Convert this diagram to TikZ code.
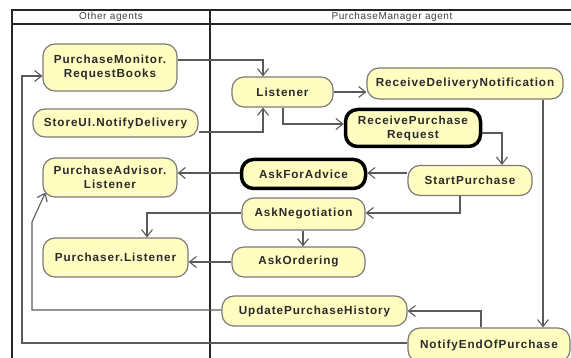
\documentclass[tikz,border=0pt]{standalone}
\usepackage{fontspec}
\setmainfont{Liberation Sans}
\newfontfamily\actfont[LetterSpace=8]{Liberation Sans Bold}
\newfontfamily\headfont[LetterSpace=6]{Liberation Sans}
\usetikzlibrary{arrows.meta}
\definecolor{actfill}{HTML}{FFFDC0}
\definecolor{actdraw}{HTML}{7A7A7A}
\definecolor{linegray}{HTML}{5A5A5A}
\definecolor{acttext}{HTML}{2A2A2A}
\tikzset{
  act/.style={draw=actdraw, line width=1.2pt, fill=actfill, rounded corners=12pt,
    inner sep=0pt, align=center, text=acttext, font=\actfont\fontsize{11.7}{14}\selectfont},
  bold act/.style={act, draw=black, line width=3.5pt},
  arr/.style={draw=linegray, line width=1.1pt, -{Straight Barb[length=7pt,width=11pt,line width=1.1pt]}},
  lane/.style={draw=black!85, line width=1.6pt},
  headtext/.style={font=\headfont\fontsize{10}{12}\selectfont, text=black!75}
}
\begin{document}
\begin{tikzpicture}[x=1pt,y=-1pt]
\useasboundingbox (0,0) rectangle (571,358);
\clip (0,0) rectangle (571,358);
% swimlanes
\draw[lane] (12,360) -- (12,10) -- (575,10);
\draw[lane] (12,24) -- (575,24);
\draw[lane] (210,10) -- (210,360);
\node[headtext] (h1) at (111,17) {Other agents};
\node[headtext] (h2) at (392,17) {PurchaseManager agent};
% activities
\node[act, minimum width=134pt, minimum height=47pt] (pm) at (110,67.5) {PurchaseMonitor.\\RequestBooks};
\node[act, minimum width=165pt, minimum height=28pt] (su) at (115.5,123) {StoreUI.NotifyDelivery};
\node[act, minimum width=134pt, minimum height=39pt] (pa) at (110,177.5) {PurchaseAdvisor.\\Listener};
\node[act, minimum width=145pt, minimum height=39pt] (pl) at (115.5,257.5) {Purchaser.Listener};
\node[act, minimum width=101pt, minimum height=30pt] (li) at (282.5,92) {Listener};
\node[act, minimum width=196pt, minimum height=31pt] (rdn) at (465,83.5) {ReceiveDeliveryNotification};
\node[bold act, minimum width=135pt, minimum height=37pt] (rpr) at (413,128) {ReceivePurchase\\Request};
\node[bold act, minimum width=124pt, minimum height=29pt] (afa) at (303.5,174) {AskForAdvice};
\node[act, minimum width=124pt, minimum height=30pt] (sp) at (470,180.5) {StartPurchase};
\node[act, minimum width=123pt, minimum height=32pt] (an) at (303.5,214) {AskNegotiation};
\node[act, minimum width=133pt, minimum height=30pt] (ao) at (298.5,262) {AskOrdering};
\node[act, minimum width=185pt, minimum height=30pt] (uph) at (314.5,311) {UpdatePurchaseHistory};
\node[act, minimum width=162pt, minimum height=34pt] (nep) at (489,345) {NotifyEndOfPurchase};
% connectors
\draw[arr] (pm.east |- 0,60) -| (li.north -| 263,0);
\draw[arr] (su.east |- 0,132) -| (li.south -| 263,0);
\draw[arr] (li.east) -- (rdn.west |- li.east);
\draw[arr] (li.south -| 283,0) |- (rpr.west |- 0,124);
\draw[arr] (rpr.east |- 0,133) -| (sp.north -| 502,0);
\draw[arr] (sp.west |- 0,173) -- (afa.east |- 0,173);
\draw[arr] (afa.west |- 0,173) -- (pa.east |- 0,173);
\draw[arr] (sp.south -| 460,0) |- (an.east |- 0,213);
\draw[arr] (an.west |- 0,213) -| (pl.north -| 147,0);
\draw[arr] (an.south -| 303,0) -- (ao.north -| 303,0);
\draw[arr] (ao.west) -- (pl.east |- ao.west);
\coordinate (bend) at (32,222);
\draw[arr] (uph.west |- 0,310) -| (bend) -- ([shift={(3pt,5pt)}]pa.south west);
\coordinate (bend2) at (22,76);
\draw[arr] (nep.west |- 0,343) -| (bend2) -- (pm.west |- bend2);
\draw[arr] (nep.north -| 481,0) |- (uph.east |- 0,311);
\draw[arr] (rdn.south -| 543,0) -- (nep.north -| 543,0);
\end{tikzpicture}
\end{document}
